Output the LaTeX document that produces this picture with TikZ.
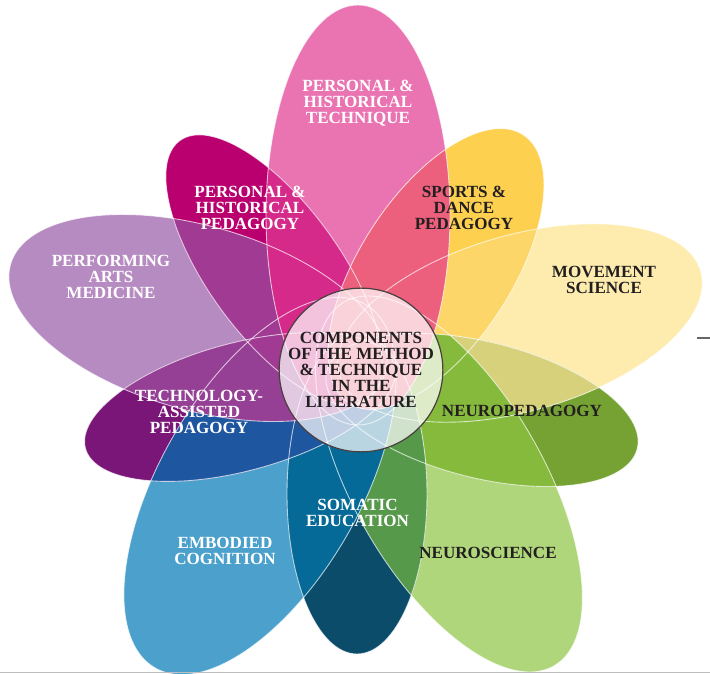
\documentclass[tikz,border=0pt]{standalone}
\usepackage{fontspec}
\setmainfont{Liberation Serif}

\definecolor{technique}{RGB}{234,116,178}
\definecolor{sports}{RGB}{253,208,80}
\definecolor{movement}{RGB}{253,236,174}
\definecolor{neuroped}{RGB}{118,162,52}
\definecolor{neurosci}{RGB}{175,214,123}
\definecolor{somatic}{RGB}{11,76,107}
\definecolor{embodied}{RGB}{75,160,204}
\definecolor{techassist}{RGB}{122,22,119}
\definecolor{performing}{RGB}{182,139,193}
\definecolor{pedagogy}{RGB}{186,0,111}
% overlaps of neighbouring petals
\definecolor{sportsmov}{RGB}{252,214,104}
\definecolor{movneuroped}{RGB}{214,209,122}
\definecolor{neuropedsci}{RGB}{134,186,61}
\definecolor{neurosom}{RGB}{87,153,75}
\definecolor{somemb}{RGB}{5,106,152}
\definecolor{embtech}{RGB}{31,86,160}
\definecolor{techperf}{RGB}{149,63,149}
\definecolor{perfped}{RGB}{160,58,146}
\definecolor{pedtech}{RGB}{213,42,138}
\definecolor{techsports}{RGB}{236,95,125}
\definecolor{textdark}{RGB}{35,31,32}
\definecolor{rimgray}{RGB}{75,65,65}

\def\petal[#1](#2)(#3:#4:#5){\path[#1, rotate around={#3:(#2)}] (#2) ellipse (#4 and #5);}
\def\overlap[#1](#2)(#3:#4:#5)(#6)(#7:#8:#9){\begin{scope}\petal[clip](#2)(#3:#4:#5)\petal[fill=#1](#6)(#7:#8:#9)\end{scope}}

\tikzset{
	lbl/.style={font=\bfseries\fontsize{9.7}{9.1}\selectfont, align=center, text=white, inner sep=0pt},
	lbldark/.style={lbl, text=textdark},
	rim/.style={draw=white, line width=0.5pt, draw opacity=0.7}
}

\begin{document}
\begin{tikzpicture}
			%%%%% START %%%%%
			
			\useasboundingbox (0, 0) rectangle (14.2, 13.48);
			
			\coordinate (ptechnique) at (7.16, 9.18);
			\coordinate (psports) at (8.72, 8.10);
			\coordinate (pmovement) at (10.40, 7.02);
			\coordinate (pneuroped) at (9.64, 5.28);
			\coordinate (pneurosci) at (8.98, 3.80);
			\coordinate (psomatic) at (7.14, 3.60);
			\coordinate (pembodied) at (5.20, 3.76);
			\coordinate (ptechassist) at (4.80, 5.34);
			\coordinate (pperforming) at (3.96, 7.12);
			\coordinate (ppedagogy) at (5.48, 8.08);
			
			\petal[fill=technique](ptechnique)(90:4.2:1.84)
			\petal[fill=movement](pmovement)(16:3.76:1.76)
			\petal[fill=neurosci](pneurosci)(-60:4.2:1.9)
			\petal[fill=embodied](pembodied)(-120:4.2:2.0)
			\petal[fill=performing](pperforming)(164:3.9:1.84)
			\petal[fill=sports](psports)(57:3.2:1.52)
			\petal[fill=neuroped](pneuroped)(-14:3.2:1.36)
			\petal[fill=somatic](psomatic)(-90:3.2:1.40)
			\petal[fill=techassist](ptechassist)(-165:3.2:1.28)
			\petal[fill=pedagogy](ppedagogy)(126:3.2:1.32)
			
			\overlap[sportsmov](psports)(57:3.2:1.52)(pmovement)(16:3.76:1.76)
			\overlap[movneuroped](pmovement)(16:3.76:1.76)(pneuroped)(-14:3.2:1.36)
			\overlap[neuropedsci](pneuroped)(-14:3.2:1.36)(pneurosci)(-60:4.2:1.9)
			\overlap[neurosom](pneurosci)(-60:4.2:1.9)(psomatic)(-90:3.2:1.40)
			\overlap[somemb](psomatic)(-90:3.2:1.40)(pembodied)(-120:4.2:2.0)
			\overlap[embtech](pembodied)(-120:4.2:2.0)(ptechassist)(-165:3.2:1.28)
			\overlap[techperf](ptechassist)(-165:3.2:1.28)(pperforming)(164:3.9:1.84)
			\overlap[perfped](pperforming)(164:3.9:1.84)(ppedagogy)(126:3.2:1.32)
			\overlap[pedtech](ppedagogy)(126:3.2:1.32)(ptechnique)(90:4.2:1.84)
			\overlap[techsports](ptechnique)(90:4.2:1.84)(psports)(57:3.2:1.52)
			
			\petal[rim](ptechnique)(90:4.2:1.84)
			\petal[rim](psports)(57:3.2:1.52)
			\petal[rim](pmovement)(16:3.76:1.76)
			\petal[rim](pneuroped)(-14:3.2:1.36)
			\petal[rim](pneurosci)(-60:4.2:1.9)
			\petal[rim](psomatic)(-90:3.2:1.40)
			\petal[rim](pembodied)(-120:4.2:2.0)
			\petal[rim](ptechassist)(-165:3.2:1.28)
			\petal[rim](pperforming)(164:3.9:1.84)
			\petal[rim](ppedagogy)(126:3.2:1.32)
			
			\node[lbldark, circle, draw=rimgray, line width=0.7pt, fill=white, fill opacity=0.72, text opacity=1, minimum size=3.2cm] (core) at (7.22, 6.08) {COMPONENTS\\OF THE METHOD\\\& TECHNIQUE\\IN THE\\LITERATURE};
			
			\node[lbl] (ntechnique) at (7.16, 11.42) {PERSONAL \&\\HISTORICAL\\TECHNIQUE};
			\node[lbl] (npedagogy) at (5.00, 9.32) {PERSONAL \&\\HISTORICAL\\PEDAGOGY};
			\node[lbl] (nperforming) at (2.22, 7.94) {PERFORMING\\ARTS\\MEDICINE};
			\node[lbldark] (nsports) at (9.28, 9.32) {SPORTS \&\\DANCE\\PEDAGOGY};
			\node[lbldark] (nmovement) at (12.08, 7.88) {MOVEMENT\\SCIENCE};
			\node[lbl] (ntechassist) at (3.98, 5.24) {TECHNOLOGY-\\ASSISTED\\PEDAGOGY};
			\node[lbldark] (nneuroped) at (10.44, 5.26) {NEUROPEDAGOGY};
			\node[lbl] (nsomatic) at (7.15, 3.23) {SOMATIC\\EDUCATION};
			\node[lbl] (nembodied) at (4.50, 2.46) {EMBODIED\\COGNITION};
			\node[lbldark] (nneurosci) at (9.76, 2.42) {NEUROSCIENCE};
			
			\draw[line width=0.6pt, color=black!25] (0, 0.03) -- (14.2, 0.03);
			\draw[line width=0.6pt, color=black!60] (13.94, 6.72) -- (14.2, 6.72);
			
			%%%%% END %%%%%
		\end{tikzpicture}
\end{document}
